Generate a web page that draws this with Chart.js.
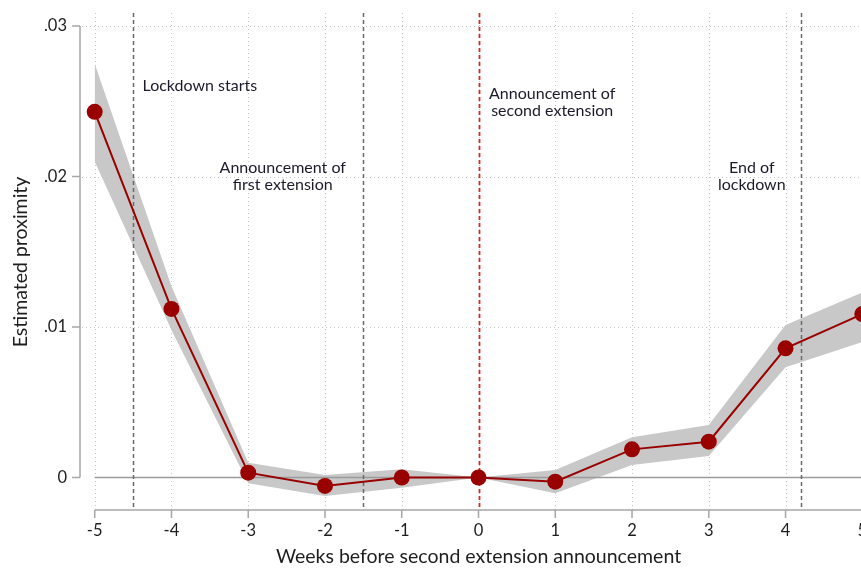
<!DOCTYPE html>
<html>
<head>
<meta charset="utf-8">
<script src="https://cdn.jsdelivr.net/npm/chart.js@4.4.1/dist/chart.umd.min.js"></script>
<style>
  html, body { margin: 0; padding: 0; background: #ffffff; overflow: hidden; width: 861px; height: 568px; }
  canvas { display: block; }
</style>
</head>
<body>
<canvas id="chart" width="900" height="568"></canvas>
<script>
// Event-study estimates by week relative to the second extension announcement
const weeks     = [-5, -4, -3, -2, -1, 0, 1, 2, 3, 4, 5];
const estimate  = [0.0243, 0.0112, 0.00032, -0.00056, 0.0, 0, -0.00028, 0.00187, 0.00238, 0.00858, 0.01086];
const ciUpper   = [0.0275, 0.0127, 0.00098, 0.00017, 0.00054, 0, 0.0005, 0.00267, 0.00349, 0.01013, 0.0123];
const ciLower   = [0.0210, 0.0098, -0.00039, -0.00123, -0.00068, 0, -0.00105, 0.00083, 0.00143, 0.00732, 0.0090];

// Axis ticks
const xTicks      = [-5, -4, -3, -2, -1, 0, 1, 2, 3, 4, 5];
const yTicks      = [0, 0.01, 0.02, 0.03];
const yTickLabels = ['0', '.01', '.02', '.03'];

// Policy events (in weeks) and their labels
const eventWeeks     = [-4.5, -1.5, 0, 4.2];
const referenceWeek  = 0;
const eventLabels    = [['Lockdown starts'], ['Announcement of', 'first extension'], ['Announcement of', 'second extension'], ['End of', 'lockdown']];
const eventLabelWeek = [-3.63, -2.55, 0.96, 3.56];
const eventLabelY    = [0.0260, 0.02056, 0.02548, 0.02056];

const FONT = 'Lato, "Open Sans", sans-serif';
const RED = '#990000';

function pts(ys) { return weeks.map((w, i) => ({ x: w, y: ys[i] })); }

const decor = {
  id: 'decor',
  beforeDatasetsDraw(chart) {
    const { ctx, chartArea: a, scales: { x, y } } = chart;
    ctx.save();
    // dotted grid
    ctx.strokeStyle = '#c4c4c4';
    ctx.lineWidth = 1;
    ctx.setLineDash([1, 3]);
    xTicks.forEach(v => {
      const px = Math.round(x.getPixelForValue(v)) + 0.5;
      ctx.beginPath(); ctx.moveTo(px, a.top); ctx.lineTo(px, a.bottom); ctx.stroke();
    });
    yTicks.filter(v => v !== 0).forEach(v => {
      const py = Math.round(y.getPixelForValue(v)) + 0.5;
      ctx.beginPath(); ctx.moveTo(a.left + 2, py); ctx.lineTo(a.right, py); ctx.stroke();
    });
    ctx.restore();
  },
  afterDatasetDraw(chart, args) {
    if (args.index !== 1) return;
    const { ctx, chartArea: a, scales: { x, y } } = chart;
    ctx.save();
    // zero reference line
    ctx.strokeStyle = '#9a9a9a';
    ctx.lineWidth = 1.5;
    const y0 = y.getPixelForValue(0);
    ctx.beginPath(); ctx.moveTo(x.getPixelForValue(-5), y0); ctx.lineTo(a.right, y0); ctx.stroke();
    // event lines
    eventWeeks.forEach(w => {
      const px = Math.round(x.getPixelForValue(w)) + 0.5;
      const isRef = w === referenceWeek;
      ctx.strokeStyle = isRef ? '#d42828' : '#6a6a6a';
      ctx.lineWidth = isRef ? 1.8 : 1.5;
      ctx.setLineDash([4, 3]);
      ctx.beginPath(); ctx.moveTo(px, a.top); ctx.lineTo(px, a.bottom); ctx.stroke();
    });
    ctx.restore();
  },
  afterDraw(chart) {
    const { ctx, chartArea: a, scales: { x, y } } = chart;
    ctx.save();
    // axes
    ctx.strokeStyle = '#a6a6a6';
    ctx.lineWidth = 1.5;
    const axX = a.left;
    const yTop = y.getPixelForValue(0.03), yBot = y.getPixelForValue(0);
    ctx.beginPath(); ctx.moveTo(axX, yTop); ctx.lineTo(axX, yBot); ctx.stroke();
    yTicks.forEach(v => {
      const py = y.getPixelForValue(v);
      ctx.beginPath(); ctx.moveTo(axX - 8, py); ctx.lineTo(axX, py); ctx.stroke();
    });
    const axY = a.bottom;
    ctx.beginPath(); ctx.moveTo(x.getPixelForValue(-5), axY); ctx.lineTo(a.right, axY); ctx.stroke();
    xTicks.forEach(v => {
      const px = x.getPixelForValue(v);
      ctx.beginPath(); ctx.moveTo(px, axY); ctx.lineTo(px, axY + 8); ctx.stroke();
    });

    // tick labels
    ctx.fillStyle = '#1e1e1e';
    ctx.font = '16.5px ' + FONT;
    ctx.textBaseline = 'middle';
    ctx.textAlign = 'right';
    yTicks.forEach((v, i) => ctx.fillText(yTickLabels[i], axX - 13, y.getPixelForValue(v)));
    ctx.textAlign = 'center';
    xTicks.forEach(v => ctx.fillText(String(v), x.getPixelForValue(v), axY + 21));

    // axis titles
    ctx.font = '19.5px ' + FONT;
    ctx.fillText('Weeks before second extension announcement', x.getPixelForValue(0), 557);
    ctx.save();
    ctx.translate(21, 262);
    ctx.rotate(-Math.PI / 2);
    ctx.fillText('Estimated proximity', 0, 0);
    ctx.restore();

    // event annotations
    ctx.font = '16px ' + FONT;
    ctx.fillStyle = '#1a1a2a';
    eventLabels.forEach((lines, i) => {
      const cx = x.getPixelForValue(eventLabelWeek[i]);
      const cy = y.getPixelForValue(eventLabelY[i]);
      lines.forEach((t, j) => ctx.fillText(t, cx, cy + j * 17));
    });
    ctx.restore();
  }
};

new Chart(document.getElementById('chart'), {
  type: 'line',
  data: {
    datasets: [
      {
        label: 'Estimate',
        data: pts(estimate),
        borderColor: RED,
        backgroundColor: RED,
        borderWidth: 2,
        pointRadius: 8,
        pointBackgroundColor: RED,
        pointBorderWidth: 0,
        tension: 0,
        fill: false,
        clip: false
      },
      {
        label: 'Upper',
        data: pts(ciUpper),
        borderWidth: 0,
        pointRadius: 0,
        backgroundColor: '#c8c8c8',
        fill: '+1',
        tension: 0
      },
      {
        label: 'Lower',
        data: pts(ciLower),
        borderWidth: 0,
        pointRadius: 0,
        backgroundColor: '#c8c8c8',
        fill: false,
        tension: 0
      }
    ]
  },
  options: {
    responsive: false,
    animation: false,
    devicePixelRatio: 1,
    layout: { autoPadding: false, padding: { left: 80, top: 13, right: 0, bottom: 58 } },
    plugins: { legend: { display: false }, tooltip: { enabled: false } },
    scales: {
      x: { type: 'linear', min: -5.1915, max: 5.4911, display: false },
      y: { type: 'linear', min: -0.0021595, max: 0.030864, display: false }
    }
  },
  plugins: [decor]
});
</script>
</body>
</html>
